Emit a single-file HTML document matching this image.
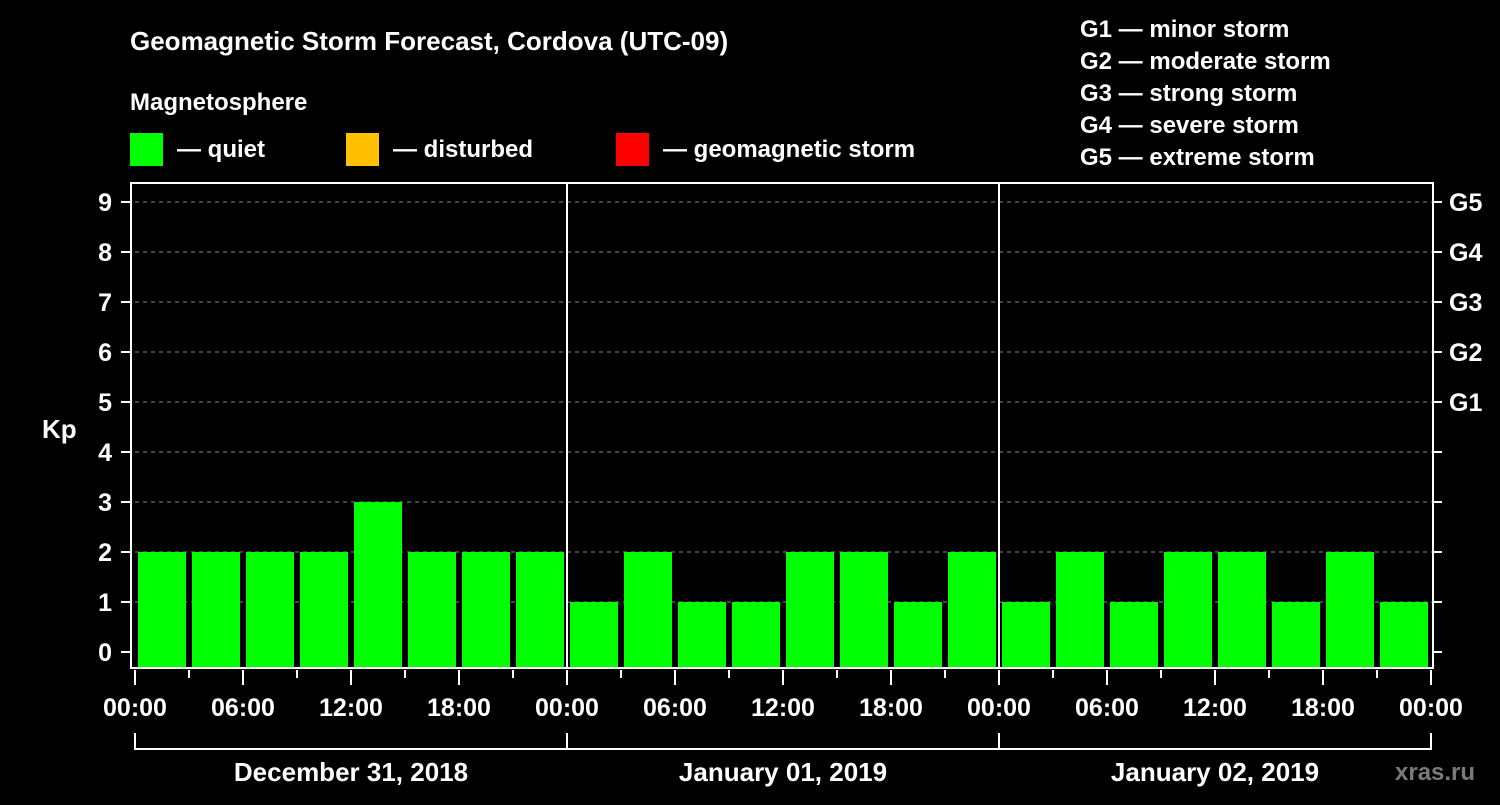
<!DOCTYPE html>
<html><head><meta charset="utf-8"><style>
body{margin:0;background:#000;}
svg text{font-family:"Liberation Sans",Arial,sans-serif;font-weight:bold;fill:#fff;}
</style></head><body>
<svg id="chart" width="1500" height="800" xmlns="http://www.w3.org/2000/svg">
<rect width="1500" height="800" fill="#000"/>
<text x="130" y="50" font-size="26">Geomagnetic Storm Forecast, Cordova (UTC-09)</text>
<text x="130" y="110" font-size="24">Magnetosphere</text>
<g>
<rect x="130" y="133" width="33" height="33" fill="#00ff00"/>
<text x="177" y="157" font-size="24">— quiet</text>
<rect x="346" y="133" width="33" height="33" fill="#ffc000"/>
<text x="393" y="157" font-size="24">— disturbed</text>
<rect x="616" y="133" width="33" height="33" fill="#ff0000"/>
<text x="663" y="157" font-size="24">— geomagnetic storm</text>
</g>
<g font-size="24">
<text x="1080" y="37">G1 — minor storm</text>
<text x="1080" y="69">G2 — moderate storm</text>
<text x="1080" y="101">G3 — strong storm</text>
<text x="1080" y="133">G4 — severe storm</text>
<text x="1080" y="165">G5 — extreme storm</text>
</g>
<text x="42" y="438" font-size="26">Kp</text>
<text x="1395" y="780" font-size="24" fill="#888" style="fill:#7a7a7a">xras.ru</text>
<g id="plot"></g>
</svg>
<script>
const kpValues = [2,2,2,2,3,2,2,2, 1,2,1,1,2,2,1,2, 1,2,1,2,2,1,2,1];
const yTicks = [0,1,2,3,4,5,6,7,8,9];
const gLabels = ["G1","G2","G3","G4","G5"];
const gLevels = [5,6,7,8,9];
const xTickLabels = ["00:00","06:00","12:00","18:00","00:00","06:00","12:00","18:00","00:00","06:00","12:00","18:00","00:00"];
const dayLabels = ["December 31, 2018","January 01, 2019","January 02, 2019"];

const NS="http://www.w3.org/2000/svg";
const g=document.getElementById('plot');
const X0=135, X1=1431, TOP=183, BOT=668;
const hourW=(X1-X0)/72;
function xs(h){return X0+h*hourW;}
function ys(v){return 652-v*50;}
function mk(tag,attrs){const e=document.createElementNS(NS,tag);for(const k in attrs)e.setAttribute(k,attrs[k]);g.appendChild(e);return e;}

yTicks.forEach(v=>{
  if(v>0){const l=mk('line',{x1:X0,x2:1433,y1:ys(v),y2:ys(v),stroke:'#888','stroke-dasharray':'4,4','stroke-width':1});
  
  }
  const t=mk('line',{x1:121,x2:131,y1:ys(v),y2:ys(v),stroke:'#fff','stroke-width':2});
  
  
  const tr=mk('line',{x1:1433,x2:1442,y1:ys(v),y2:ys(v),stroke:'#fff','stroke-width':2});
  
  
  const tx=mk('text',{x:112,y:ys(v)+9,'font-size':25,'text-anchor':'end'});
  tx.textContent=v;
  
  
});
gLabels.forEach((s,i)=>{
  const tx=mk('text',{x:1449,y:ys(gLevels[i])+9,'font-size':25});
  tx.textContent=s;
  
  
});
kpValues.forEach((v,i)=>{
  const b=mk('rect',{x:xs(i*3)+3,y:ys(v),width:hourW*3-6,height:BOT-ys(v),fill:'#00ff00'});
  
  
});
[1,2].forEach(d=>{
  const l=mk('line',{x1:xs(d*24),x2:xs(d*24),y1:TOP,y2:BOT,stroke:'#fff','stroke-width':2});
  
  
});
const frame=mk('path',{d:`M131 ${TOP} H1433 V${BOT} H131 Z`,fill:'none',stroke:'#fff','stroke-width':2});


for(let k=0;k<=24;k++){
  const major=k%2===0;
  const t=mk('line',{x1:xs(k*3),x2:xs(k*3),y1:670,y2:major?685:678,stroke:'#fff','stroke-width':2});
  
  
}
xTickLabels.forEach((s,i)=>{
  const tx=mk('text',{x:xs(i*6),y:716,'font-size':25,'text-anchor':'middle'});
  tx.textContent=s;
  
  
});
const br=mk('path',{d:`M${xs(0)} 733 V749 H${xs(72)} V733 M${xs(24)} 733 V749 M${xs(48)} 733 V749`,fill:'none',stroke:'#fff','stroke-width':2});


dayLabels.forEach((s,i)=>{
  const tx=mk('text',{x:xs(i*24+12),y:781,'font-size':26,'text-anchor':'middle'});
  tx.textContent=s;
  
  
});
</script>
</body></html>
